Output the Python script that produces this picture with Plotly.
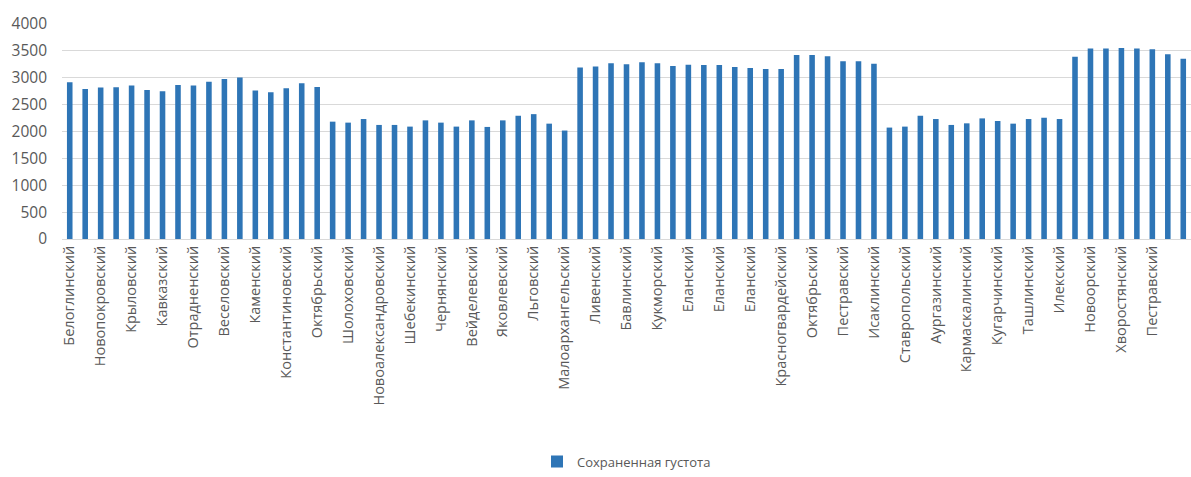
import plotly.graph_objects as go

values = [2915, 2793, 2817, 2823, 2854, 2774, 2750, 2866, 2854, 2927,
          2976, 3006, 2762, 2732, 2805, 2896, 2829, 2183, 2165, 2232,
          2122, 2122, 2091, 2207, 2165, 2091, 2207, 2085, 2207, 2293,
          2323, 2146, 2018, 3189, 3207, 3268, 3250, 3287, 3268, 3220,
          3244, 3238, 3238, 3201, 3183, 3165, 3165, 3421, 3421, 3402,
          3305, 3305, 3262, 2073, 2091, 2293, 2232, 2122, 2152, 2244,
          2195, 2146, 2232, 2256, 2232, 3390, 3543, 3543, 3555, 3543,
          3530, 3439, 3354]

tick_labels = ["Белоглинский", "Новопокровский", "Крыловский", "Кавказский",
               "Отрадненский", "Веселовский", "Каменский", "Константиновский",
               "Октябрьский", "Шолоховский", "Новоалександровский", "Шебекинский",
               "Чернянский", "Вейделевский", "Яковлевский", "Льговский",
               "Малоархангельский", "Ливенский", "Бавлинский", "Кукморский",
               "Еланский", "Еланский", "Еланский", "Красногвардейский",
               "Октябрьский", "Пестравский", "Исаклинский", "Ставропольский",
               "Аургазинский", "Кармаскалинский", "Кугарчинский", "Ташлинский",
               "Илекский", "Новоорский", "Хворостянский", "Пестравский"]

series_name = "Сохраненная густота"
y_ticks = [0, 500, 1000, 1500, 2000, 2500, 3000, 3500, 4000]

x = list(range(len(values)))
tick_positions = x[0:2 * len(tick_labels):2]

fig = go.Figure()
fig.add_trace(go.Bar(
    x=x, y=values, name=series_name,
    marker=dict(color="#2E75B6", line=dict(width=0)),
    showlegend=True,
))

font_family = "Open Sans, Liberation Sans, sans-serif"
fig.update_layout(
    width=1191, height=477,
    margin=dict(l=62, r=0, t=24, b=234),
    paper_bgcolor="white", plot_bgcolor="white",
    bargap=0.64,
    font=dict(family=font_family, color="#595959", size=13),
    legend=dict(orientation="h", x=0.5, xanchor="center", y=-1.035, yanchor="middle",
                font=dict(size=13, color="#595959"), itemwidth=30),
    xaxis=dict(
        range=[-0.5, len(values) - 0.5],
        tickmode="array", tickvals=tick_positions, ticktext=tick_labels,
        tickangle=-90, tickfont=dict(size=14.5, color="#595959"),
        showgrid=False, showline=True, linecolor="#d9d9d9", linewidth=1,
        ticks="", zeroline=False,
    ),
    yaxis=dict(
        range=[0, 4000], tickmode="array", tickvals=y_ticks,
        tickfont=dict(size=15.5, color="#595959"),
        showgrid=True, gridcolor="#d9d9d9", gridwidth=1,
        zeroline=False, showline=False, ticks="", ticklabelstandoff=14,
    ),
)

fig.write_html("out.html")
